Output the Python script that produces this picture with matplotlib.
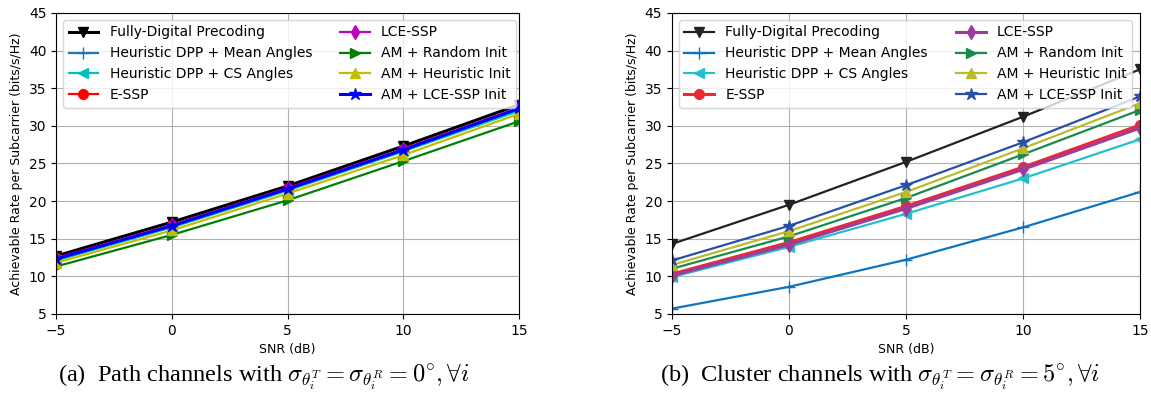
import numpy as np
import matplotlib
matplotlib.use('Agg')
import matplotlib.pyplot as plt

plt.rcParams['mathtext.fontset'] = 'cm'

snr = [-5, 0, 5, 10, 15]

labels = ['Fully-Digital Precoding', 'Heuristic DPP + Mean Angles',
          'Heuristic DPP + CS Angles', 'E-SSP', 'LCE-SSP',
          'AM + Random Init', 'AM + Heuristic Init', 'AM + LCE-SSP Init']
markers = ['v', '+', '<', 'o', 'd', '>', '^', '*']

# (a) path channels
fd_a = [12.7, 17.2, 22.0, 27.3, 32.8]
mean_a = [12.2, 16.6, 21.5, 26.7, 32.2]
cs_a = [12.1, 16.5, 21.4, 26.6, 32.0]
essp_a = [12.4, 16.8, 21.7, 26.9, 32.4]
lcessp_a = [12.4, 16.8, 21.7, 26.9, 32.4]
rand_a = [11.3, 15.5, 20.1, 25.3, 30.6]
heur_a = [11.8, 16.1, 21.0, 26.1, 31.6]
lceinit_a = [12.3, 16.7, 21.6, 26.8, 32.3]

# (b) cluster channels
fd_b = [14.3, 19.5, 25.2, 31.2, 37.5]
mean_b = [5.7, 8.6, 12.2, 16.5, 21.2]
cs_b = [9.9, 13.9, 18.3, 23.0, 28.2]
essp_b = [10.3, 14.5, 19.3, 24.5, 30.1]
lcessp_b = [10.1, 14.2, 19.0, 24.2, 29.7]
rand_b = [11.0, 15.3, 20.4, 26.2, 32.1]
heur_b = [11.5, 16.0, 21.2, 27.0, 33.0]
lceinit_b = [12.1, 16.7, 22.1, 27.8, 33.9]

colors_a = ['k', '#1f77b4', 'c', 'r', 'm', 'g', 'y', 'b']
colors_b = ['#222222', '#0e74c0', '#22c0c8', '#ea2a30', '#9c3c9c',
            '#1a8a4c', '#b8bc2a', '#2a4fa6']

series_a = [fd_a, mean_a, cs_a, essp_a, lcessp_a, rand_a, heur_a, lceinit_a]
series_b = [fd_b, mean_b, cs_b, essp_b, lcessp_b, rand_b, heur_b, lceinit_b]

fig = plt.figure(figsize=(11.51, 4.04), dpi=100)
ax1 = fig.add_axes([0.0487, 0.223, 0.4023, 0.745])
ax2 = fig.add_axes([0.5838, 0.223, 0.4066, 0.745])

for ax, series, colors in [(ax1, series_a, colors_a), (ax2, series_b, colors_b)]:
    for y, lab, mk, c in zip(series, labels, markers, colors):
        ms = 9 if mk == '*' else 7
        if mk == '+':
            ms = 8
        lw = 2.2 if ax is ax1 and mk in ('*', 'v') else 1.6
        if ax is ax2 and mk in ('o', 'd'):
            lw = 2.2
        ax.plot(snr, y, color=c, marker=mk, markersize=ms, linewidth=lw,
                label=lab)
    ax.set_xlim(-5, 15)
    ax.set_ylim(5, 45)
    ax.set_xticks([-5, 0, 5, 10, 15])
    ax.set_yticks(range(5, 50, 5))
    ax.grid(True, color='#b0b0b0', linewidth=0.8)
    ax.tick_params(labelsize=10)
    ax.set_xlabel('SNR (dB)', fontsize=9)
    ax.set_ylabel('Achievable Rate per Subcarrier (bits/s/Hz)', fontsize=9)
    ax.legend(loc='upper left', ncol=2, fontsize=10, columnspacing=2.0,
              handlelength=2.15, handletextpad=0.8, labelspacing=0.5,
              borderaxespad=0.5)

fig.text(0.2294, 0.066, r'(a)  Path channels with $\sigma_{\theta_i^T} = \sigma_{\theta_i^R} = 0^{\circ}, \forall i$',
         ha='center', va='center', fontsize=17.6, family='Liberation Serif')
fig.text(0.7646, 0.066, r'(b)  Cluster channels with $\sigma_{\theta_i^T} = \sigma_{\theta_i^R} = 5^{\circ}, \forall i$',
         ha='center', va='center', fontsize=17.6, family='Liberation Serif')

fig.savefig('out.png', dpi=100)
